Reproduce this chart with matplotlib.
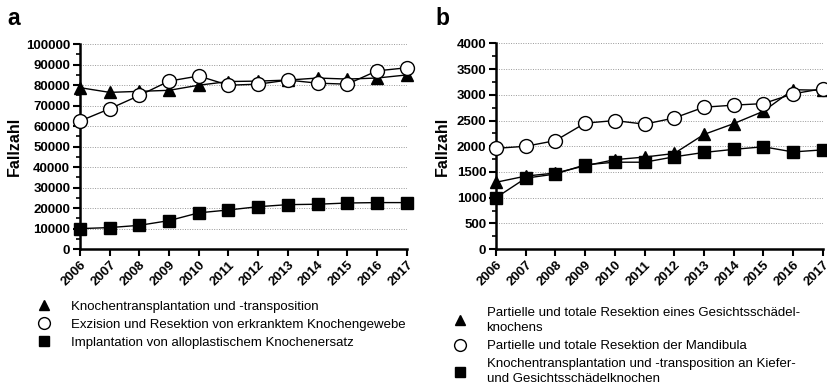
import matplotlib.pyplot as plt
from matplotlib.lines import Line2D
from matplotlib.ticker import MultipleLocator

plt.rcParams['font.family'] = ['Liberation Sans', 'DejaVu Sans']

# Daten
jahre = list(range(2006, 2018))

# Panel a
a_transplantation = [78800, 76500, 77000, 77500, 80000, 81800, 82000, 82500, 83500, 83000, 83500, 85000]
a_exzision = [62500, 68500, 75000, 82000, 84500, 80000, 80500, 82500, 81000, 80500, 87000, 88500]
a_implantation = [10000, 10500, 11600, 13900, 17700, 19100, 20700, 21700, 21900, 22500, 22700, 22700]
a_labels = ["Knochentransplantation und -transposition",
            "Exzision und Resektion von erkranktem Knochengewebe",
            "Implantation von alloplastischem Knochenersatz"]

# Panel b
b_gesichtsschaedel = [1300, 1420, 1480, 1620, 1740, 1790, 1860, 2230, 2440, 2680, 3100, 3090]
b_mandibula = [1960, 2000, 2110, 2450, 2500, 2430, 2550, 2760, 2800, 2830, 3020, 3120]
b_kiefer = [1000, 1380, 1460, 1640, 1690, 1690, 1795, 1880, 1940, 1990, 1890, 1930]
b_labels = ["Partielle und totale Resektion eines Gesichtsschädel-\nknochens",
            "Partielle und totale Resektion der Mandibula",
            "Knochentransplantation und -transposition an Kiefer-\nund Gesichtsschädelknochen"]

fig = plt.figure(figsize=(8.27, 3.88), dpi=100)
ax_a = fig.add_axes([0.0967, 0.358, 0.395, 0.528])
ax_b = fig.add_axes([0.5998, 0.358, 0.395, 0.530])

stile = [dict(marker='^', markersize=8, markerfacecolor='black'),
         dict(marker='o', markersize=10, markerfacecolor='white'),
         dict(marker='s', markersize=8, markerfacecolor='black')]


def panel(ax, reihen, labels, ymax, major, minor, ylab_x, leg_y):
    for werte, st in zip(reihen, stile):
        ax.plot(jahre, werte, color='black', linewidth=1, markeredgecolor='black',
                markeredgewidth=1, clip_on=False, zorder=3, **st)
    ax.set_xlim(2006, 2017)
    ax.set_ylim(0, ymax)
    ax.set_xticks(jahre)
    ax.set_xticklabels([str(j) for j in jahre], rotation=45, ha='right',
                       rotation_mode='anchor', fontsize=9.5, fontweight='bold')
    ax.yaxis.set_major_locator(MultipleLocator(major))
    ax.yaxis.set_minor_locator(MultipleLocator(minor))
    for lab in ax.get_yticklabels():
        lab.set_fontweight('bold')
        lab.set_fontsize(9.5)
    ax.tick_params(axis='both', which='major', length=5, width=1.5, direction='out', pad=2)
    ax.tick_params(axis='y', which='minor', length=3, width=1.2, direction='out')
    for sp in ['top', 'right']:
        ax.spines[sp].set_visible(False)
    for sp in ['left', 'bottom']:
        ax.spines[sp].set_linewidth(1.8)
    for y in range(major, ymax + 1, major):
        ax.axhline(y, color='#999999', linestyle=(0, (1, 1.5)), linewidth=0.7, zorder=1)
    ax.set_ylabel("Fallzahl", fontsize=11.5, fontweight='bold')
    ax.yaxis.set_label_coords(ylab_x, 0.5)
    griffe = [Line2D([], [], linestyle='none', color='black', markeredgecolor='black',
                     **dict(st, markersize=st['markersize'] * 0.85)) for st in stile]
    leg = ax.legend(griffe, labels, loc='upper left', bbox_to_anchor=(-0.15, leg_y),
                    frameon=False, fontsize=9.5, handlelength=1.2, handletextpad=1.4,
                    labelspacing=0.45, borderaxespad=0)
    for t in leg.get_texts():
        t.set_linespacing(1.35)


panel(ax_a, [a_transplantation, a_exzision, a_implantation], a_labels,
      100000, 10000, 5000, -0.178, -0.225)
panel(ax_b, [b_gesichtsschaedel, b_mandibula, b_kiefer], b_labels,
      4000, 500, 250, -0.14, -0.255)

fig.text(7 / 827, 1 - 25 / 388, "a", fontsize=16.5, fontweight='bold', va='baseline')
fig.text(435 / 827, 1 - 25 / 388, "b", fontsize=16.5, fontweight='bold', va='baseline')

fig.savefig("out.png", dpi=100)
